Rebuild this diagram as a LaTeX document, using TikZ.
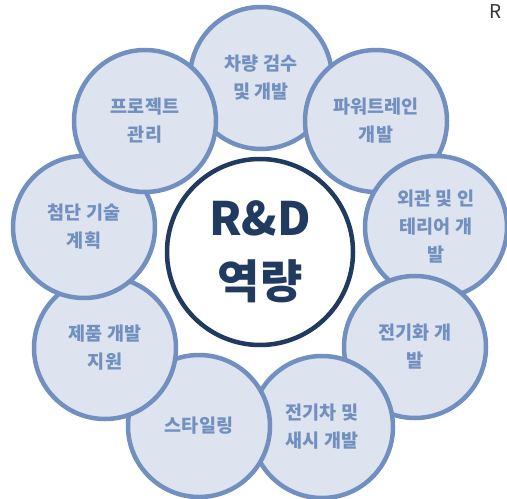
\documentclass[tikz,border=0pt]{standalone}
\usepackage{fontspec}
\newfontfamily\kr{Noto Sans CJK KR}
\definecolor{ringblue}{HTML}{7290BF}
\definecolor{fillblue}{HTML}{DDE3EF}
\definecolor{navy}{HTML}{213A5F}
\begin{document}
\begin{tikzpicture}[x=1bp,y=-1bp,
  outer/.style={circle, draw=ringblue, fill=fillblue, line width=4.5bp,
    minimum size=142bp, inner sep=0pt, align=center, text=ringblue,
    font=\kr\bfseries\fontsize{18.5bp}{28bp}\selectfont},
  core/.style={circle, draw=navy, fill=white, line width=4.5bp,
    minimum size=186bp, inner sep=0pt, align=center, text=navy,
    font=\kr\bfseries\fontsize{46bp}{63bp}\selectfont},
  corner/.style={inner sep=0pt, text=black!80, font=\kr\fontsize{19bp}{20bp}\selectfont}]
\path[use as bounding box] (0,0) rectangle (507,499);
\node[outer] (c1) at (261,78)  {차량 검수\\및 개발};
\node[outer] (c2) at (376,121) {파워트레인\\개발};
\node[outer] (c3) at (436,227) {외관 및 인\\테리어 개\\발};
\node[outer] (c4) at (415,347) {전기화 개\\발};
\node[outer] (c5) at (322,427) {전기차 및\\새시 개발};
\node[outer] (c6) at (199,426) {스타일링};
\node[outer] (c7) at (105,348) {제품 개발\\지원};
\node[outer] (c8) at (84,227)  {첨단 기술\\계획};
\node[outer] (c9) at (145,121) {프로젝트\\관리};
\node[core] (hub) at (260,252) {R\&D\\역량};
\node[corner] (r) at (496,12) {R};
\end{tikzpicture}
\end{document}
